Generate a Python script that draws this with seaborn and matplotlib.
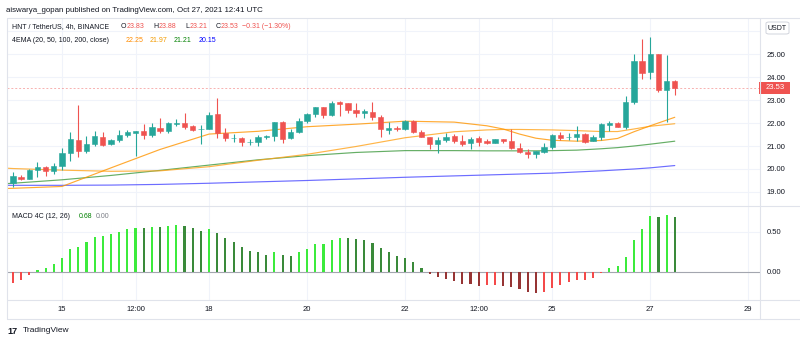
import numpy as np
import pandas as pd
import matplotlib
matplotlib.use("Agg")
import matplotlib.pyplot as plt
from matplotlib.patches import Rectangle, FancyBboxPatch
from matplotlib.lines import Line2D
import seaborn as sns

# ---------------- data ----------------
bar_index = list(range(-1, 82))
opens = [19.16, 19.40, 19.67, 19.58, 19.96, 20.07, 19.91, 20.13, 20.70, 21.28, 20.80,
         21.09, 21.41, 21.09, 21.26, 21.46, 21.58, 21.65, 21.49, 21.80, 21.64,
         21.96, 22.00, 21.87, 21.72, 21.75, 22.38, 21.57, 21.35, 21.34, 21.17,
         21.16, 21.38, 21.45, 22.06, 21.33, 21.62, 22.10, 22.39, 22.68, 22.36,
         22.90, 22.86, 22.57, 22.45, 22.47, 22.26, 21.71, 21.80, 21.74, 22.07,
         21.60, 21.38, 21.10, 21.26, 21.43, 21.22, 21.12, 21.33, 21.22, 21.15,
         21.32, 21.22, 20.91, 20.75, 20.64, 20.75, 20.94, 21.46, 21.38, 21.41,
         21.52, 21.23, 21.41, 21.93, 22.00, 21.84, 22.91, 24.70, 24.20, 24.99,
         23.43, 23.83]
highs = [19.48, 19.87, 19.75, 19.99, 20.30, 20.15, 20.27, 20.91, 21.61, 22.78, 21.45,
         21.67, 21.61, 21.32, 21.70, 21.70, 21.66, 21.97, 21.98, 22.20, 22.05,
         22.19, 22.43, 21.93, 21.93, 22.47, 23.09, 21.77, 21.51, 21.40, 21.29,
         21.47, 21.48, 22.06, 22.10, 21.73, 22.20, 22.45, 22.71, 22.71, 22.94,
         22.96, 22.88, 22.88, 22.61, 22.90, 22.33, 22.04, 21.86, 22.12, 22.13,
         21.70, 21.40, 21.38, 21.55, 21.51, 21.47, 21.40, 21.42, 21.30, 21.32,
         21.32, 21.73, 21.12, 20.86, 20.80, 21.12, 21.52, 21.62, 21.58, 21.87,
         21.58, 21.46, 21.99, 22.10, 22.04, 23.17, 25.00, 25.64, 25.75, 24.99,
         24.96, 23.88]
lows = [19.12, 19.23, 19.52, 19.55, 19.64, 19.70, 19.78, 19.96, 20.35, 20.53, 20.71,
        21.00, 21.02, 21.04, 21.18, 21.40, 20.57, 21.32, 21.40, 21.55, 21.58,
        21.87, 21.75, 21.65, 21.07, 21.72, 21.33, 21.23, 21.16, 21.00, 21.03,
        21.01, 21.32, 21.23, 21.13, 21.29, 21.58, 21.99, 22.27, 22.22, 22.30,
        22.30, 22.45, 22.28, 22.20, 22.12, 21.38, 21.52, 21.67, 21.70, 21.58,
        21.38, 20.88, 20.68, 21.16, 21.12, 21.01, 20.86, 21.01, 21.09, 21.12,
        21.13, 20.86, 20.68, 20.48, 20.50, 20.71, 20.86, 21.26, 21.26, 21.23,
        21.12, 21.20, 21.26, 21.64, 21.81, 21.75, 22.83, 23.91, 23.90, 23.35,
        22.03, 23.21]
closes = [19.45, 19.68, 19.57, 19.96, 20.07, 19.91, 20.12, 20.68, 21.29, 20.77, 21.10,
          21.43, 21.06, 21.25, 21.46, 21.61, 21.64, 21.49, 21.83, 21.64, 21.99,
          22.01, 21.84, 21.70, 21.75, 22.36, 21.57, 21.36, 21.37, 21.19, 21.19,
          21.38, 21.43, 22.04, 21.30, 21.62, 22.10, 22.39, 22.68, 22.36, 22.88,
          22.84, 22.57, 22.43, 22.51, 22.26, 21.75, 21.80, 21.73, 22.07, 21.60,
          21.38, 21.10, 21.26, 21.40, 21.22, 21.10, 21.32, 21.19, 21.15, 21.32,
          21.20, 20.90, 20.75, 20.65, 20.80, 20.97, 21.48, 21.36, 21.39, 21.52,
          21.17, 21.40, 21.94, 22.00, 21.84, 22.91, 24.70, 24.16, 24.99, 23.43,
          23.83, 23.53]

ema_index = [-1, 0, 6, 12, 18, 24, 30, 36, 42, 48, 54, 58, 60, 62, 64, 66, 69, 72, 74, 76, 78, 81]
ema20 = [19.15, 19.16, 19.24, 20.05, 20.85, 21.52, 21.64, 21.84, 21.95, 22.08, 22.04,
         21.88, 21.74, 21.52, 21.34, 21.25, 21.21, 21.24, 21.33, 21.62, 21.88, 22.25]
ema50 = [20.04, 20.02, 19.95, 19.90, 19.92, 20.10, 20.38, 20.64, 20.98, 21.36, 21.62,
         21.70, 21.72, 21.72, 21.71, 21.70, 21.67, 21.63, 21.63, 21.74, 21.86, 21.97]
ema100 = [19.36, 19.38, 19.53, 19.72, 19.94, 20.17, 20.40, 20.58, 20.72, 20.80, 20.80,
          20.79, 20.79, 20.79, 20.79, 20.80, 20.82, 20.88, 20.93, 21.00, 21.08, 21.21]
ema200 = [19.29, 19.29, 19.29, 19.30, 19.33, 19.38, 19.44, 19.50, 19.57, 19.64, 19.70,
          19.74, 19.76, 19.78, 19.80, 19.82, 19.87, 19.92, 19.96, 20.00, 20.05, 20.15]

macd_index = list(range(0, 82))
macd_hist = [-0.14, -0.105, -0.04, 0.02, 0.05, 0.09, 0.17, 0.28, 0.31, 0.37, 0.43,
             0.45, 0.47, 0.50, 0.53, 0.55, 0.54, 0.56, 0.555, 0.575, 0.58, 0.57,
             0.54, 0.51, 0.53, 0.48, 0.42, 0.37, 0.305, 0.26, 0.24, 0.21, 0.245,
             0.21, 0.20, 0.24, 0.28, 0.34, 0.35, 0.40, 0.42, 0.418, 0.405, 0.39,
             0.36, 0.29, 0.24, 0.19, 0.165, 0.115, 0.05, -0.03, -0.07, -0.09,
             -0.115, -0.15, -0.155, -0.175, -0.17, -0.165, -0.175, -0.19, -0.22,
             -0.25, -0.265, -0.25, -0.20, -0.165, -0.13, -0.10, -0.098, -0.08,
             -0.02, 0.04, 0.07, 0.18, 0.40, 0.53, 0.69, 0.685, 0.71, 0.68]

time_tick_bars = [6, 15, 24, 36, 48, 57, 66, 78, 90]
time_tick_labels = ["15", "12:00", "18", "20", "22", "12:00", "25", "27", "29"]
price_ticks = [19, 20, 21, 22, 23, 24, 25, 26]
macd_ticks = [0.0, 0.5]

# ---------------- style ----------------
sns.set_theme(style="white")
FAM = ["Liberation Sans", "DejaVu Sans"]
plt.rcParams["font.family"] = FAM
TXT = "#131722"
GRID = "#F0F3FA"
BORDER = "#E0E3EB"
UP = "#26A69A"
DN = "#EF5350"

W, H = 800, 343
fig = plt.figure(figsize=(W / 100, H / 100), dpi=100)
fig.patch.set_facecolor("white")

def fx(x):
    return x / W

def fy(y):
    return 1 - y / H

ax1 = fig.add_axes([fx(7), fy(206), fx(753), 188 / H])
ax2 = fig.add_axes([fx(7), fy(300), fx(753), 94 / H])

x_lo, x_hi = -0.73, 91.43
for ax in (ax1, ax2):
    ax.set_facecolor("white")
    for s in ax.spines.values():
        s.set_visible(False)
    ax.set_xlim(x_lo, x_hi)
    ax.set_xticks(time_tick_bars)
    ax.tick_params(axis="both", length=0, labelsize=5.5, labelcolor=TXT)
    ax.yaxis.tick_right()
    ax.grid(True, color=GRID, linewidth=0.8)
    ax.set_axisbelow(True)

# ---------------- price pane ----------------
df = pd.DataFrame({"bar": bar_index, "open": opens, "high": highs, "low": lows, "close": closes})
cols = [UP if c >= o else DN for o, c in zip(df["open"], df["close"])]
ax1.vlines(df["bar"], df["low"], df["high"], colors=cols, linewidth=0.8, zorder=3)
ax1.bar(df["bar"], df["close"] - df["open"], bottom=df["open"], width=0.65,
        color=cols, edgecolor=cols, linewidth=0.4, zorder=4)

ema_df = pd.DataFrame({"bar": ema_index, "e20": ema20, "e50": ema50, "e100": ema100, "e200": ema200})
for col, color, a in [("e200", "#3C3CFF", 0.75), ("e100", "#3F9A3F", 0.8),
                      ("e50", "#FFA31A", 0.8), ("e20", "#FF9500", 0.8)]:
    sns.lineplot(data=ema_df, x="bar", y=col, ax=ax1, color=color, linewidth=0.85,
                 alpha=a, sort=False, estimator=None, zorder=2)

ax1.axhline(closes[-1], color=DN, linewidth=0.7, linestyle=(0, (2, 2)), alpha=0.45, zorder=1)
ax1.set_ylim(18.39, 26.57)
ax1.set_yticks(price_ticks)
ax1.set_yticklabels([f"{v:.2f}" if v < 26 else "" for v in price_ticks])
ax1.tick_params(axis="y", pad=5)
ax1.set_xticklabels([])
ax1.set_xlabel("")
ax1.set_ylabel("")

# ---------------- MACD pane ----------------
mdf = pd.DataFrame({"bar": macd_index, "hist": macd_hist})
states = []
prev = None
for v in macd_hist:
    rising = prev is None or v > prev
    if v >= 0:
        states.append("pos_up" if rising else "pos_dn")
    else:
        states.append("neg_up" if rising else "neg_dn")
    prev = v
mdf["state"] = states
pal = {"pos_up": "#3CEB3C", "pos_dn": "#3A8A3A", "neg_up": "#F44A4A", "neg_dn": "#963434"}
sns.barplot(data=mdf, x="bar", y="hist", hue="state", palette=pal, native_scale=True,
            width=0.26, dodge=False, errorbar=None, legend=False, saturation=1,
            linewidth=0, ax=ax2, zorder=3)
ax2.axhline(0, color="#A3A6AF", linewidth=0.8, zorder=2)
ax2.set_xlim(x_lo, x_hi)
ax2.set_ylim(-0.354, 0.82)
ax2.set_yticks(macd_ticks)
ax2.set_yticklabels([f"{v:.2f}" for v in macd_ticks])
ax2.tick_params(axis="y", pad=5)
ax2.set_xticks(time_tick_bars)
ax2.set_xticklabels(time_tick_labels)
ax2.tick_params(axis="x", pad=4.3)
ax2.set_xlabel("")
ax2.set_ylabel("")

# ---------------- frame lines ----------------
for y in (18, 206, 300, 319):
    fig.add_artist(Line2D([fx(7), fx(800)], [fy(y), fy(y)], color=BORDER, linewidth=0.8))
for x in (7, 760):
    fig.add_artist(Line2D([fx(x), fx(x)], [fy(18), fy(319)], color=BORDER, linewidth=0.8))

# ---------------- price label box ----------------
fig.canvas.draw()
renderer = fig.canvas.get_renderer()
ydisp = ax1.transData.transform((0, closes[-1]))[1]
yfig = ydisp / fig.bbox.height
fig.add_artist(Rectangle((fx(759), yfig - 6 / H), fx(31), 12 / H, transform=fig.transFigure,
                         facecolor=DN, edgecolor="none"))
fig.text(fx(775), yfig, f"{closes[-1]:.2f}", color="white", fontsize=5.5, ha="center", va="center")

fig.add_artist(FancyBboxPatch((fx(766), fy(34)), fx(23), 12 / H, transform=fig.transFigure,
                              boxstyle="round,pad=0,rounding_size=0.004",
                              facecolor="white", edgecolor="#D1D4DC", linewidth=0.7))
fig.text(fx(777.5), fy(28), "USDT", color=TXT, fontsize=5.0, ha="center", va="center")

# ---------------- texts ----------------
def put(x, y, s, color=TXT, size=5.0, weight="normal"):
    t = fig.text(fx(x), fy(y), s, color=color, fontsize=size, ha="left", va="center",
                 fontweight=weight, family=FAM)
    return t.get_window_extent(renderer=renderer).x1

def row(y, pieces, size=5.0):
    end = 0
    for s, color, target, gap in pieces:
        x = max(target, end + gap)
        end = put(x, y, s, color, size)

put(6, 10, "aiswarya_gopan published on TradingView.com, Oct 27, 2021 12:41 UTC", size=5.7)

row(27, [("HNT / TetherUS, 4h, BINANCE", TXT, 12, 0),
         ("O", TXT, 120.5, 3), ("23.83", DN, 124.5, 0.5),
         ("H", TXT, 153.3, 4), ("23.88", DN, 158, 0.5),
         ("L", TXT, 185, 4), ("23.21", DN, 188.5, 0.5),
         ("C", TXT, 215.5, 4), ("23.53", DN, 220, 0.5),
         ("\u22120.31 (\u22121.30%)", DN, 242, 2)])

row(40, [("4EMA (20, 50, 100, 200, close)", TXT, 12, 0),
         ("22.25", "#FF8C00", 126, 4),
         ("21.97", "#F29B00", 150, 3),
         ("21.21", "#008000", 174, 3),
         ("20.15", "#0000FF", 199, 3)])

row(217, [("MACD 4C (12, 26)", TXT, 12, 0),
          ("0.68", "#008000", 79, 4),
          ("0.00", "#7A7D85", 96, 3)])

put(7, 331, "17", "#131722", size=6.5, weight="bold")
put(22.5, 331, "TradingView", TXT, size=6.0)

fig.savefig("out.png", dpi=100)
